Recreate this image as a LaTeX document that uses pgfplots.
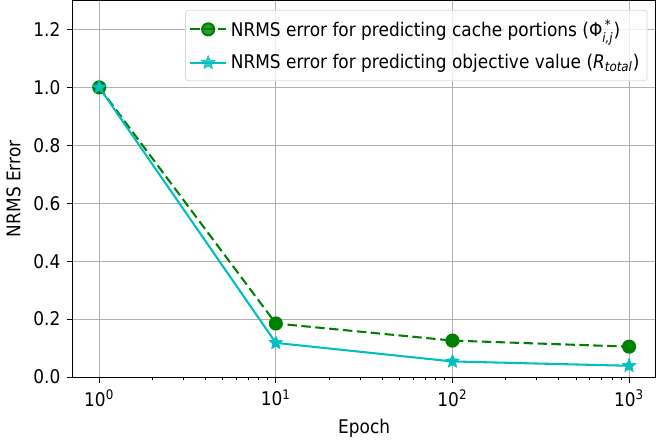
\documentclass[border=0pt]{standalone}
\usepackage{pgfplots}
\pgfplotsset{compat=1.18}
\usepackage{amsmath}
\usepackage{fontspec}
\setmainfont{DejaVu Sans}[FakeStretch=0.9]
\definecolor{mplgreen}{rgb}{0,0.5,0}
\definecolor{mplcyan}{rgb}{0,0.75,0.75}
\definecolor{gridgray}{HTML}{B0B0B0}
% filled five-point star, like matplotlib's '*'
\pgfdeclareplotmark{fstar}{%
  \pgfpathmoveto{\pgfqpointpolar{90}{\pgfplotmarksize}}%
  \pgfpathlineto{\pgfqpointpolar{126}{0.45\pgfplotmarksize}}%
  \pgfpathlineto{\pgfqpointpolar{162}{\pgfplotmarksize}}%
  \pgfpathlineto{\pgfqpointpolar{198}{0.45\pgfplotmarksize}}%
  \pgfpathlineto{\pgfqpointpolar{234}{\pgfplotmarksize}}%
  \pgfpathlineto{\pgfqpointpolar{270}{0.45\pgfplotmarksize}}%
  \pgfpathlineto{\pgfqpointpolar{306}{\pgfplotmarksize}}%
  \pgfpathlineto{\pgfqpointpolar{342}{0.45\pgfplotmarksize}}%
  \pgfpathlineto{\pgfqpointpolar{18}{\pgfplotmarksize}}%
  \pgfpathlineto{\pgfqpointpolar{54}{0.45\pgfplotmarksize}}%
  \pgfpathclose
  \pgfusepathqfillstroke}
\begin{document}
\begin{tikzpicture}
\begin{semilogxaxis}[
    scale only axis,
    width=309.5pt,
    height=200pt,
    xmin=0.7079, xmax=1412.5,
    ymin=0, ymax=1.3,
    xtick={1,10,100,1000},
    xticklabels={10\textsuperscript{0},10\textsuperscript{1},10\textsuperscript{2},10\textsuperscript{3}},
    ytick={0,0.2,0.4,0.6,0.8,1.0,1.2},
    yticklabel style={/pgf/number format/.cd, fixed, fixed zerofill, precision=1, assume math mode=true},
    tick label style={font=\fontsize{10}{12}\selectfont},
    label style={font=\fontsize{10}{12}\selectfont},
    xlabel={Epoch},
    ylabel={NRMS Error},
    xmajorgrids, ymajorgrids,
    grid style={gridgray, line width=0.45pt},
    axis line style={line width=0.45pt},
    tick align=outside,
    tick pos=left,
    major tick length=3pt,
    minor tick length=1.7pt,
    every tick/.style={black, line width=0.45pt},
    legend style={
        at={(rel axis cs:1,1)}, xshift=-4.3pt, yshift=-5pt,
        anchor=north east,
        draw=black!15, rounded corners=1.5pt,
        fill=white, fill opacity=0.8, text opacity=1,
        font=\fontsize{10}{12}\selectfont,
        row sep=4pt,
        inner xsep=2pt, inner ysep=3pt,
    },
    legend cell align=left,
    legend image code/.code={
        \draw[mark repeat=2,mark phase=2,#1] plot coordinates {(0pt,0pt) (9.5pt,0pt) (19pt,0pt)};
    },
]
\addplot[mplgreen, line width=1.1pt, dashed, dash pattern=on 5pt off 2.4pt,
    mark=*, mark size=3.2pt, mark options={solid}]
    coordinates {(1,1.0) (10,0.185) (100,0.126) (1000,0.105)};
\addlegendentry{NRMS error for predicting cache portions (Φ$^{\,\text{*}}_{\textit{i,j}}$)}
\addplot[mplcyan, line width=1.1pt, mark=fstar, mark size=3.8pt,
    mark options={solid, line width=0.3pt}]
    coordinates {(1,1.0) (10,0.118) (100,0.054) (1000,0.039)};
\addlegendentry{NRMS error for predicting objective value ($\textit{R}_{\textit{total}}$)}
\end{semilogxaxis}
\end{tikzpicture}
\end{document}
